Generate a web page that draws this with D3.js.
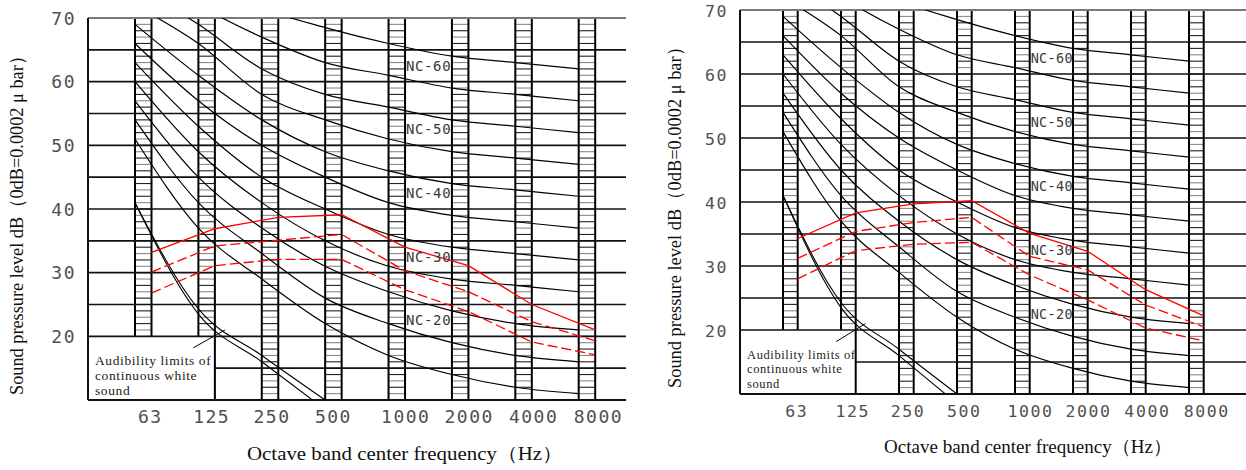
<!DOCTYPE html>
<html><head><meta charset="utf-8">
<script src="https://cdn.jsdelivr.net/npm/d3@7"></script>
<style>body{margin:0;background:#fff}</style>
</head><body><svg id="c" width="1246" height="470"></svg>
<script>
// ---------- data ----------
const freqs = ["63","125","250","500","1000","2000","4000","8000"];
const yTicks = [20,30,40,50,60,70];
const gridLevels = [15,20,25,30,35,40,45,50,55,60,65];
const ncNames = ["NC-60","NC-50","NC-40","NC-30","NC-20"];
const ncNameLevels = [60,50,40,30,20];
// NC curves (dB at each octave band)
const nc15 = [51,37,29,22,17,14,12,11];
const nc20 = [54,41,33,26,22,19,17,16];
const nc25 = [57,45,37,31,27,24,22,21];
const nc30 = [60,49,41,35,31,29,28,27];
const nc35 = [63,53,45,40,36,34,33,32];
const nc40 = [66,57,50,45,41,39,38,37];
const nc45 = [69,61,54,49,46,44,43,42];
const nc50 = [72,66,58,54,51,49,48,47];
const nc55 = [75,69,62,58,56,54,53,52];
const nc60 = [78,72,67,63,61,59,58,57];
const nc65 = [81,76,71.5,68.5,66,64,63,62];
const ncCurves = [nc15,nc20,nc25,nc30,nc35,nc40,nc45,nc50,nc55,nc60,nc65];
// audibility limits of continuous white sound (63..500 Hz)
const audLower = [41,23.5,16,8.5];
const audUpper = [41,24.3,17,10];
// measured spectra, left chart
const leftSolid = [33.2,36.9,38.7,39.1,34.0,31.1,25.0,21.0];
const leftDash1 = [30.1,34.2,35.1,36.0,30.3,27.0,22.3,19.3];
const leftDash2 = [26.8,31.1,32.1,32.1,27.3,23.9,19.1,17.1];
// measured spectra, right chart
const rightSolid = [34.3,38.3,39.7,40.2,35.1,32.3,26.3,22.2];
const rightDash1 = [31.2,35.4,36.8,37.6,31.5,29.4,23.9,20.5];
const rightDash2 = [28.0,32.4,33.4,33.7,28.6,24.7,20.3,18.3];
const annotLines = ["Audibility limits of","continuous white","sound"];
const xTitle = "Octave band center frequency\uFF08Hz\uFF09";
const yTitle = "Sound pressure level dB\uFF080dB=0.0002 \u03BC bar\uFF09";

// ---------- layout ----------
const labelShift = [-2,-4,-7,-9,0,0,1,2.5];
const svg = d3.select("#c");
const CAD = "'DejaVu Sans Mono', monospace";
const SERIF = "'Liberation Serif','Times New Roman',serif";

function drawPanel(cfg, reds){
  const g = svg.append("g");
  const y = d3.scaleLinear().domain([10,70]).range([cfg.bot, cfg.top]);
  const x = d3.scalePoint().domain(freqs).range([cfg.first, cfg.last]);
  const step = x.step();
  const bw = cfg.bw;
  const boxRight = x("125") + bw;

  const cid = "clip"+cfg.id;
  g.append("clipPath").attr("id",cid).append("rect")
    .attr("x",cfg.x0).attr("y",cfg.top).attr("width",cfg.x1-cfg.x0).attr("height",cfg.bot-cfg.top);

  // hatched bands
  freqs.forEach((f,i)=>{
    const bx = x(f);
    const lowDb = i<2 ? 20 : 10;
    const hatch = d3.range(lowDb+1, 70);
    g.selectAll(null).data(hatch).enter().append("line")
      .attr("x1",bx).attr("x2",bx+bw)
      .attr("y1",d=>y(d)).attr("y2",d=>y(d))
      .attr("stroke",(d,k)=> k%2 ? "#222" : "#8a8a8a").attr("stroke-width",1.1);
    [bx, bx+bw].forEach(vx=>{
      g.append("line").attr("x1",vx).attr("x2",vx).attr("y1",y(70)).attr("y2",y(lowDb))
        .attr("stroke","#000").attr("stroke-width",2);
    });
  });
  g.append("line").attr("x1",boxRight).attr("x2",boxRight).attr("y1",y(20)).attr("y2",y(10))
    .attr("stroke","#000").attr("stroke-width",2);

  // horizontal grid
  gridLevels.forEach(v=>{
    g.append("line").attr("x1", v<20 ? boxRight : cfg.x0).attr("x2",cfg.x1)
      .attr("y1",y(v)).attr("y2",y(v)).attr("stroke","#111").attr("stroke-width",1.7);
  });
  g.append("line").attr("x1",cfg.x0).attr("x2",cfg.x1).attr("y1",y(70)).attr("y2",y(70))
    .attr("stroke","#7a7a7a").attr("stroke-width",2);
  g.append("line").attr("x1",cfg.x0).attr("x2",cfg.x1).attr("y1",y(10)).attr("y2",y(10))
    .attr("stroke","#111").attr("stroke-width",2);
  g.append("line").attr("x1",cfg.x0).attr("x2",cfg.x0).attr("y1",y(70)).attr("y2",y(10))
    .attr("stroke","#111").attr("stroke-width",2);

  const cg = g.append("g").attr("clip-path",`url(#${cid})`);
  const ncLine = d3.line().x((d,i)=>x(freqs[i])).y(d=>y(d)).curve(d3.curveMonotoneX);
  cg.selectAll(null).data(ncCurves).enter().append("path")
    .attr("d",ncLine).attr("fill","none").attr("stroke","#000").attr("stroke-width",1.2);
  [audLower,audUpper].forEach(a=>{
    cg.append("path").attr("d",ncLine(a)).attr("fill","none").attr("stroke","#000").attr("stroke-width",1.1);
  });
  g.append("line").attr("x1",x("125")-0.08*step).attr("y1",y(18.2))
    .attr("x2",x("125")+0.42*step).attr("y2",y(21)).attr("stroke","#000").attr("stroke-width",1);

  const rLine = d3.line().x((d,i)=>x(freqs[i])+bw).y(d=>y(d));
  cg.append("path").attr("d",rLine(reds[0])).attr("fill","none").attr("stroke","#ff0000").attr("stroke-width",1.3);
  [reds[1],reds[2]].forEach(r=>{
    cg.append("path").attr("d",rLine(r)).attr("fill","none").attr("stroke","#ff0000")
      .attr("stroke-width",1.3).attr("stroke-dasharray","10,4");
  });

  ncNames.forEach((n,i)=>{
    g.append("text").attr("x",x("1000")+bw+cfg.ncDx).attr("y",y(ncNameLevels[i]+2.5)+5)
      .attr("font-family",CAD).attr("font-size",cfg.ncSize).attr("letter-spacing",cfg.ncLS)
      .attr("fill","#3a3a3a").text(n);
  });

  yTicks.forEach(t=>{
    g.append("text").attr("x",cfg.yLabRight).attr("y",y(t)+6.5).attr("text-anchor","end")
      .attr("font-family",CAD).attr("font-size",cfg.tickSize).attr("letter-spacing",cfg.tickLS)
      .attr("fill","#505050").text(t);
  });
  freqs.forEach((f,i)=>{
    g.append("text").attr("x",x(f)+bw+labelShift[i]*step/63.4 + cfg.tickLS/2).attr("y",cfg.tickY)
      .attr("text-anchor","middle")
      .attr("font-family",CAD).attr("font-size",cfg.tickSize).attr("letter-spacing",cfg.tickLS)
      .attr("fill","#505050").text(f);
  });

  annotLines.forEach((t,i)=>{
    g.append("text").attr("x",cfg.annotX).attr("y",cfg.annotY[i])
      .attr("font-family",SERIF).attr("font-size",cfg.annotSize).attr("letter-spacing",0.6)
      .attr("fill","#222").text(t);
  });

  g.append("text").attr("x",cfg.xTitleX).attr("y",cfg.xTitleY).attr("text-anchor","middle")
    .attr("font-family",SERIF).attr("font-size",cfg.titleSize).attr("fill","#111")
    .attr("textLength",cfg.xTitleLen).attr("lengthAdjust","spacingAndGlyphs").text(xTitle);
  g.append("text").attr("transform",`translate(${cfg.yTitleX},${cfg.yTitleY}) rotate(-90)`)
    .attr("text-anchor","middle")
    .attr("font-family",SERIF).attr("font-size",cfg.titleSize).attr("fill","#111")
    .attr("textLength",cfg.yTitleLen).attr("lengthAdjust","spacingAndGlyphs").text(yTitle);
}

drawPanel({id:"L", x0:88, x1:626, top:18, bot:400, first:135, last:578.7, bw:16.5,
  tickY:423, tickSize:18, tickLS:1.5, yLabRight:76, ncSize:14, ncLS:0.6, ncDx:1,
  annotX:95, annotY:[365,380,395], annotSize:13.5,
  xTitleX:405, xTitleY:460, xTitleLen:316, yTitleX:23, yTitleY:221, yTitleLen:348, titleSize:19},
  [leftSolid,leftDash1,leftDash2]);
drawPanel({id:"R", x0:740, x1:1246, top:10, bot:394, first:783, last:1189, bw:14.7,
  tickY:417, tickSize:16.5, tickLS:1.6, yLabRight:728, ncSize:13.5, ncLS:0.3, ncDx:1,
  annotX:747, annotY:[358.5,373,388], annotSize:12.5,
  xTitleX:1028, xTitleY:453, xTitleLen:288, yTitleX:681, yTitleY:213, yTitleLen:350, titleSize:19},
  [rightSolid,rightDash1,rightDash2]);
</script></body></html>
